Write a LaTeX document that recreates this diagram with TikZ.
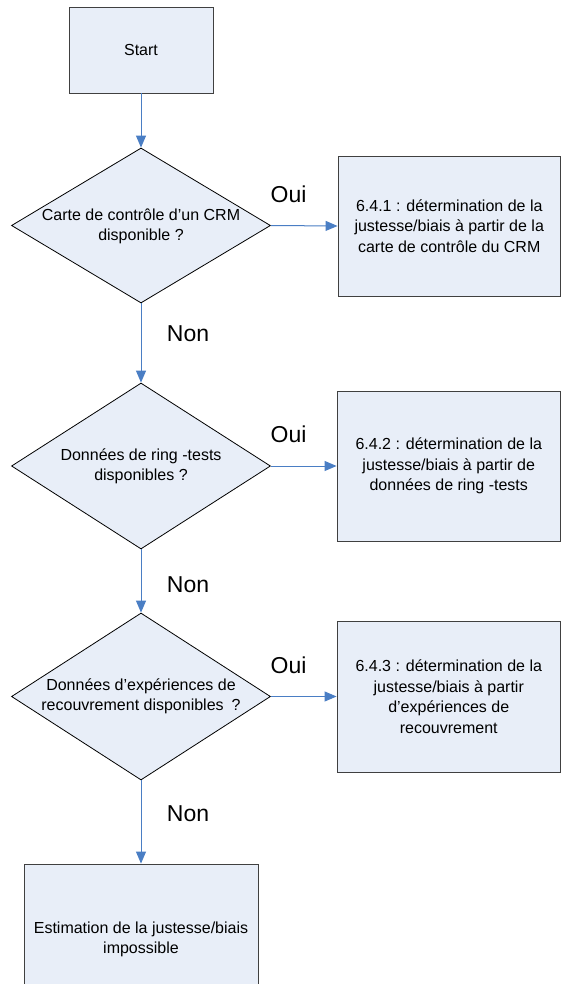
\documentclass[tikz,border=0pt]{standalone}
\usepackage{fontspec}
\setmainfont{Liberation Sans}
\usetikzlibrary{shapes.geometric,arrows.meta}
\definecolor{boxfill}{HTML}{E8EEF8}
\definecolor{arrowblue}{HTML}{4A7EC4}
\definecolor{boxline}{HTML}{404040}
\begin{document}
\begin{tikzpicture}[x=1pt,y=-1pt,
  procbox/.style={draw=boxline,fill=boxfill,line width=0.9pt,rectangle,inner sep=0pt,align=center,
     font=\fontsize{16}{20.5}\selectfont},
  decbox/.style={draw=black,fill=boxfill,line width=0.8pt,diamond,inner sep=0pt,minimum width=259pt},
  dectext/.style={align=center,inner sep=0pt,font=\fontsize{16}{20}\selectfont},
  lbl/.style={inner sep=0pt,font=\fontsize{23}{26}\selectfont},
  flow/.style={draw=arrowblue,line width=1pt,-{Triangle[length=12pt,width=10pt]}}]
\useasboundingbox (0,0) rectangle (561,984);
\fill[white] (0,0) rectangle (561,984);

\node[procbox,minimum width=144pt,minimum height=86pt] (start) at (141,50) {Start};

\node[decbox,minimum height=155pt] (d1) at (141,225.5) {};
\node[dectext] (t1) at (141,226.5) {Carte de contrôle d’un CRM\\disponible ?};
\node[procbox,minimum width=222.5pt,minimum height=140pt] (b1) at (449.25,226) {6.4.1 : détermination de la\\justesse/biais à partir de la\\carte de contrôle du CRM};

\node[decbox,minimum height=166pt] (d2) at (141,466) {};
\node[dectext] (t2) at (141,466.5) {Données de ring -tests\\disponibles ?};
\node[procbox,minimum width=223.5pt,minimum height=150pt] (b2) at (448.75,466) {6.4.2 : détermination de la\\justesse/biais à partir de\\données de ring -tests};

\node[decbox,minimum height=167pt] (d3) at (141,696.5) {};
\node[dectext] (t3) at (141,696.5) {Données d’expériences de\\recouvrement disponibles\enspace ?};
\node[procbox,minimum width=223.5pt,minimum height=151pt] (b3) at (448.75,696.5) {6.4.3 : détermination de la\\justesse/biais à partir\\d’expériences de\\recouvrement};

\node[procbox,minimum width=234pt,minimum height=151pt] (end) at (141,939.5) {Estimation de la justesse/biais\\impossible};

\draw[flow] (start.south) -- (d1.north);
\draw[flow] (d1.east) -- (b1.west);
\draw[flow] (d1.south) -- (d2.north);
\draw[flow] (d2.east) -- (b2.west);
\draw[flow] (d2.south) -- (d3.north);
\draw[flow] (d3.east) -- (b3.west);
\draw[flow] (d3.south) -- (end.north);

\node[lbl] (oui1) at (288.5,194) {Oui};
\node[lbl] (oui2) at (288.5,434) {Oui};
\node[lbl] (oui3) at (288.5,665) {Oui};
\node[lbl] (non1) at (188,334) {Non};
\node[lbl] (non2) at (188,584.5) {Non};
\node[lbl] (non3) at (188,814) {Non};
\end{tikzpicture}
\end{document}
